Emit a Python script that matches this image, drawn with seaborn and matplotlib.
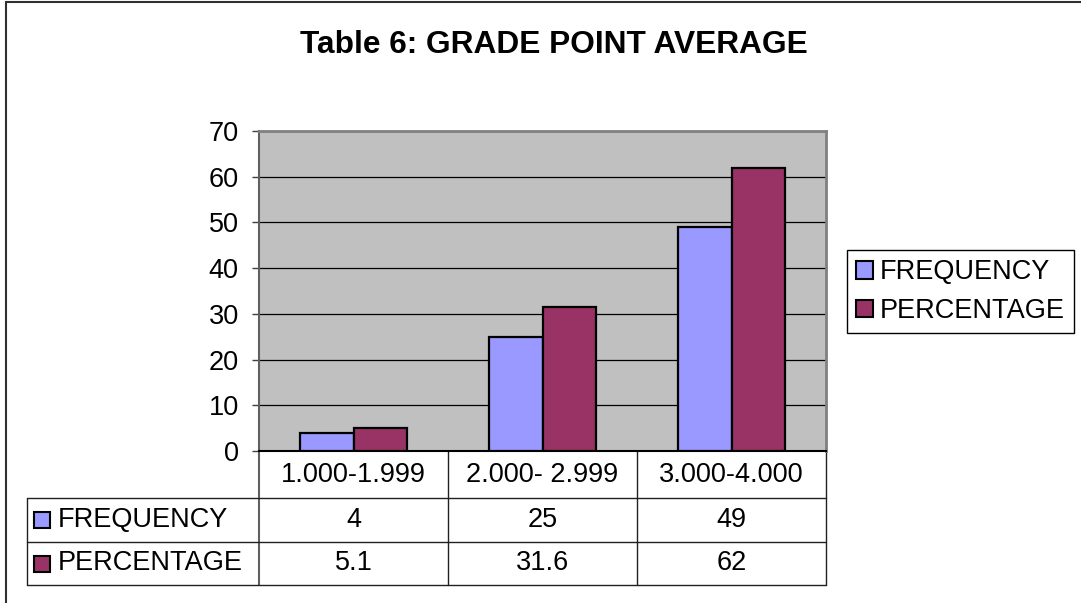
import pandas as pd
import seaborn as sns
import matplotlib.pyplot as plt
from matplotlib.patches import Rectangle, Patch
from matplotlib.transforms import blended_transform_factory

categories = ["1.000-1.999", "2.000- 2.999", "3.000-4.000"]
series = ["FREQUENCY", "PERCENTAGE"]
frequency = [4, 25, 49]
percentage = [5.1, 31.6, 62]
table_text = [["4", "25", "49"], ["5.1", "31.6", "62"]]
colors = ["#9999FF", "#993366"]

df = pd.DataFrame({
    "group": categories * 2,
    "series": [series[0]] * 3 + [series[1]] * 3,
    "value": frequency + percentage,
})

sns.set_style("white")
plt.rcParams["font.family"] = ["Liberation Sans", "DejaVu Sans"]
plt.rcParams["font.size"] = 19.5
plt.rcParams["text.color"] = "black"
plt.rcParams["ytick.labelcolor"] = "black"

W, H = 1081, 603
fig = plt.figure(figsize=(W / 100, H / 100), dpi=100)
ax = fig.add_axes([259 / W, (H - 451) / H, 567 / W, 320 / H])
ax.set_facecolor("#C0C0C0")

sns.barplot(data=df, x="group", y="value", hue="series", palette=colors,
            saturation=1, width=0.571, edgecolor="black", linewidth=1.6,
            ax=ax, legend=False, zorder=3)

ax.set_xlim(-0.5, 2.5)
ax.set_ylim(0, 70)
ax.set_yticks(range(0, 71, 10))
ax.yaxis.grid(True, color="black", linewidth=0.9, zorder=1)
ax.set_axisbelow(True)
ax.set_xlabel("")
ax.set_ylabel("")
ax.tick_params(axis="x", length=0, labelbottom=False)
ax.tick_params(axis="y", left=True, length=5, width=1, color="#404040",
               pad=9.5, labelsize=19.5, labelcolor="black")
for side, col, lw in [("left", "#606060", 1.5), ("top", "#808080", 2),
                      ("right", "#808080", 2), ("bottom", "black", 1.5)]:
    ax.spines[side].set_visible(True)
    ax.spines[side].set_color(col)
    ax.spines[side].set_linewidth(lw)

# data table below the plot
tr = blended_transform_factory(ax.transData, ax.transAxes)
rows = [0, -47 / 320, -91 / 320, -134 / 320]
xl = -0.5 - 232 / 189
line_kw = dict(transform=tr, color="#202020", linewidth=1, clip_on=False)
for x in [0.5, 1.5, 2.5]:
    ax.plot([x, x], [rows[0], rows[3]], **line_kw)
ax.plot([-0.5, -0.5], [rows[0], rows[3]], transform=tr, color="#606060",
        linewidth=1.5, clip_on=False)
ax.plot([xl, xl], [rows[1], rows[3]], **line_kw)
for r in rows[1:]:
    ax.plot([xl, 2.5], [r, r], **line_kw)

for i, c in enumerate(categories):
    ax.text(i, (rows[0] + rows[1]) / 2, c, transform=tr, ha="center",
            va="center", fontsize=19.5)
for j, (name, vals) in enumerate(zip(series, table_text)):
    yc = (rows[j + 1] + rows[j + 2]) / 2
    for i, v in enumerate(vals):
        ax.text(i, yc, v, transform=tr, ha="center", va="center", fontsize=19.5)
    ax.add_patch(Rectangle((xl + 7 / 189, yc - 8 / 320), 16 / 189, 16 / 320,
                           transform=tr, facecolor=colors[j],
                           edgecolor="black", linewidth=1.5, clip_on=False))
    ax.text(xl + 31 / 189, yc, name, transform=tr, ha="left", va="center",
            fontsize=19.5)

handles = [Patch(facecolor=c, edgecolor="black", linewidth=1.5) for c in colors]
leg = fig.legend(handles, series, loc="upper left",
                 bbox_to_anchor=(847 / W, 1 - 250 / H), frameon=True,
                 fancybox=False, edgecolor="black", framealpha=1,
                 handlelength=0.6, handleheight=0.6, handletextpad=0.25,
                 borderpad=0.35, labelspacing=0.45, borderaxespad=0,
                 fontsize=19.5)
leg.get_frame().set_linewidth(1)

fig.suptitle("Table 6: GRADE POINT AVERAGE", x=554 / W, y=1 - 45 / H,
             va="center", fontsize=22.8, fontweight="bold", color="black")

fig.patches.append(Rectangle((6 / W, -0.1), 1.2, 1.1 - 2 / H,
                             transform=fig.transFigure, fill=False,
                             edgecolor="#303030", linewidth=1.5))

fig.savefig("out.png", dpi=100)
